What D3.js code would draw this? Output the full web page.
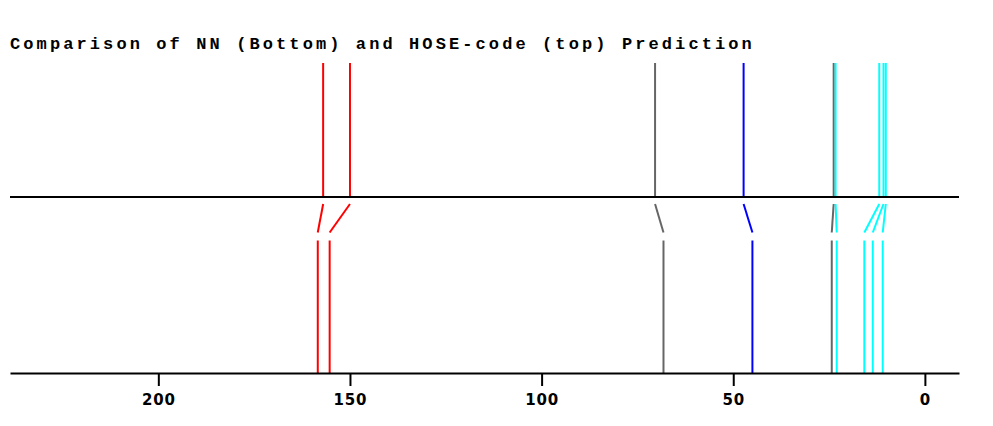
<!DOCTYPE html>
<html>
<head>
<meta charset="utf-8">
<script src="https://cdn.jsdelivr.net/npm/d3@7"></script>
<style>
  body { margin: 0; background: #fff; }
  .title { font-family: "Liberation Mono", "Courier New", monospace; font-weight: bold; font-size: 17px; letter-spacing: 3.1px; }
  .axis text { font-family: "DejaVu Sans", Verdana, sans-serif; font-weight: bold; font-size: 15px; letter-spacing: 0.8px; }
</style>
</head>
<body>
<script>
// chemical shifts (ppm): HOSE-code prediction (top) and NN prediction (bottom), paired by index
var hoseShifts = [157.0, 150.0, 70.4, 47.3, 23.8, 23.3, 11.9, 10.8, 10.2];
var nnShifts   = [158.4, 155.3, 68.2, 45.0, 24.3, 23.0, 15.8, 13.6, 11.0];
var peakColors = ["red", "red", "#666666", "blue", "#666666", "cyan", "cyan", "cyan", "cyan"];
var tickValues = [200, 150, 100, 50, 0];

var width = 993, height = 426;

var svg = d3.select("body").append("svg")
    .attr("width", width)
    .attr("height", height);

// reversed ppm axis
var x = d3.scaleLinear()
    .domain([238.7, -8.9])
    .range([10, 959]);

var yTopStart = 63, yMid = 197, yBendTop = 204, yBendBot = 232.5, yBotStart = 240.5, yAxis = 373;

svg.append("text")
    .attr("class", "title")
    .attr("x", 10)
    .attr("y", 49)
    .text("Comparison of NN (Bottom) and HOSE-code (top) Prediction");

var peaks = hoseShifts.map(function(h, i) {
  return { hose: h, nn: nnShifts[i], color: peakColors[i] };
});

// top peaks (HOSE)
svg.selectAll(".top")
    .data(peaks)
  .enter().append("line")
    .attr("class", "top")
    .attr("x1", function(d) { return x(d.hose); })
    .attr("x2", function(d) { return x(d.hose); })
    .attr("y1", yTopStart)
    .attr("y2", yMid)
    .attr("stroke", function(d) { return d.color; })
    .attr("stroke-width", 2);

// connectors
svg.selectAll(".link")
    .data(peaks)
  .enter().append("line")
    .attr("class", "link")
    .attr("x1", function(d) { return x(d.hose); })
    .attr("x2", function(d) { return x(d.nn); })
    .attr("y1", yBendTop)
    .attr("y2", yBendBot)
    .attr("stroke", function(d) { return d.color; })
    .attr("stroke-width", 2);

// bottom peaks (NN)
svg.selectAll(".bottom")
    .data(peaks)
  .enter().append("line")
    .attr("class", "bottom")
    .attr("x1", function(d) { return x(d.nn); })
    .attr("x2", function(d) { return x(d.nn); })
    .attr("y1", yBotStart)
    .attr("y2", yAxis)
    .attr("stroke", function(d) { return d.color; })
    .attr("stroke-width", 2);

// middle separator
svg.append("line")
    .attr("x1", x.range()[0])
    .attr("x2", x.range()[1])
    .attr("y1", yMid)
    .attr("y2", yMid)
    .attr("stroke", "black")
    .attr("stroke-width", 2);

// bottom axis
var axis = svg.append("g")
    .attr("class", "axis")
    .attr("transform", "translate(0," + yAxis + ")")
    .call(d3.axisBottom(x).tickValues(tickValues).tickSize(13).tickSizeOuter(0).tickPadding(8));

axis.select(".domain").attr("stroke", "black").attr("stroke-width", 2);
axis.selectAll(".tick line").attr("stroke", "black").attr("stroke-width", 2);
axis.selectAll(".tick text").attr("fill", "black");
</script>
</body>
</html>
